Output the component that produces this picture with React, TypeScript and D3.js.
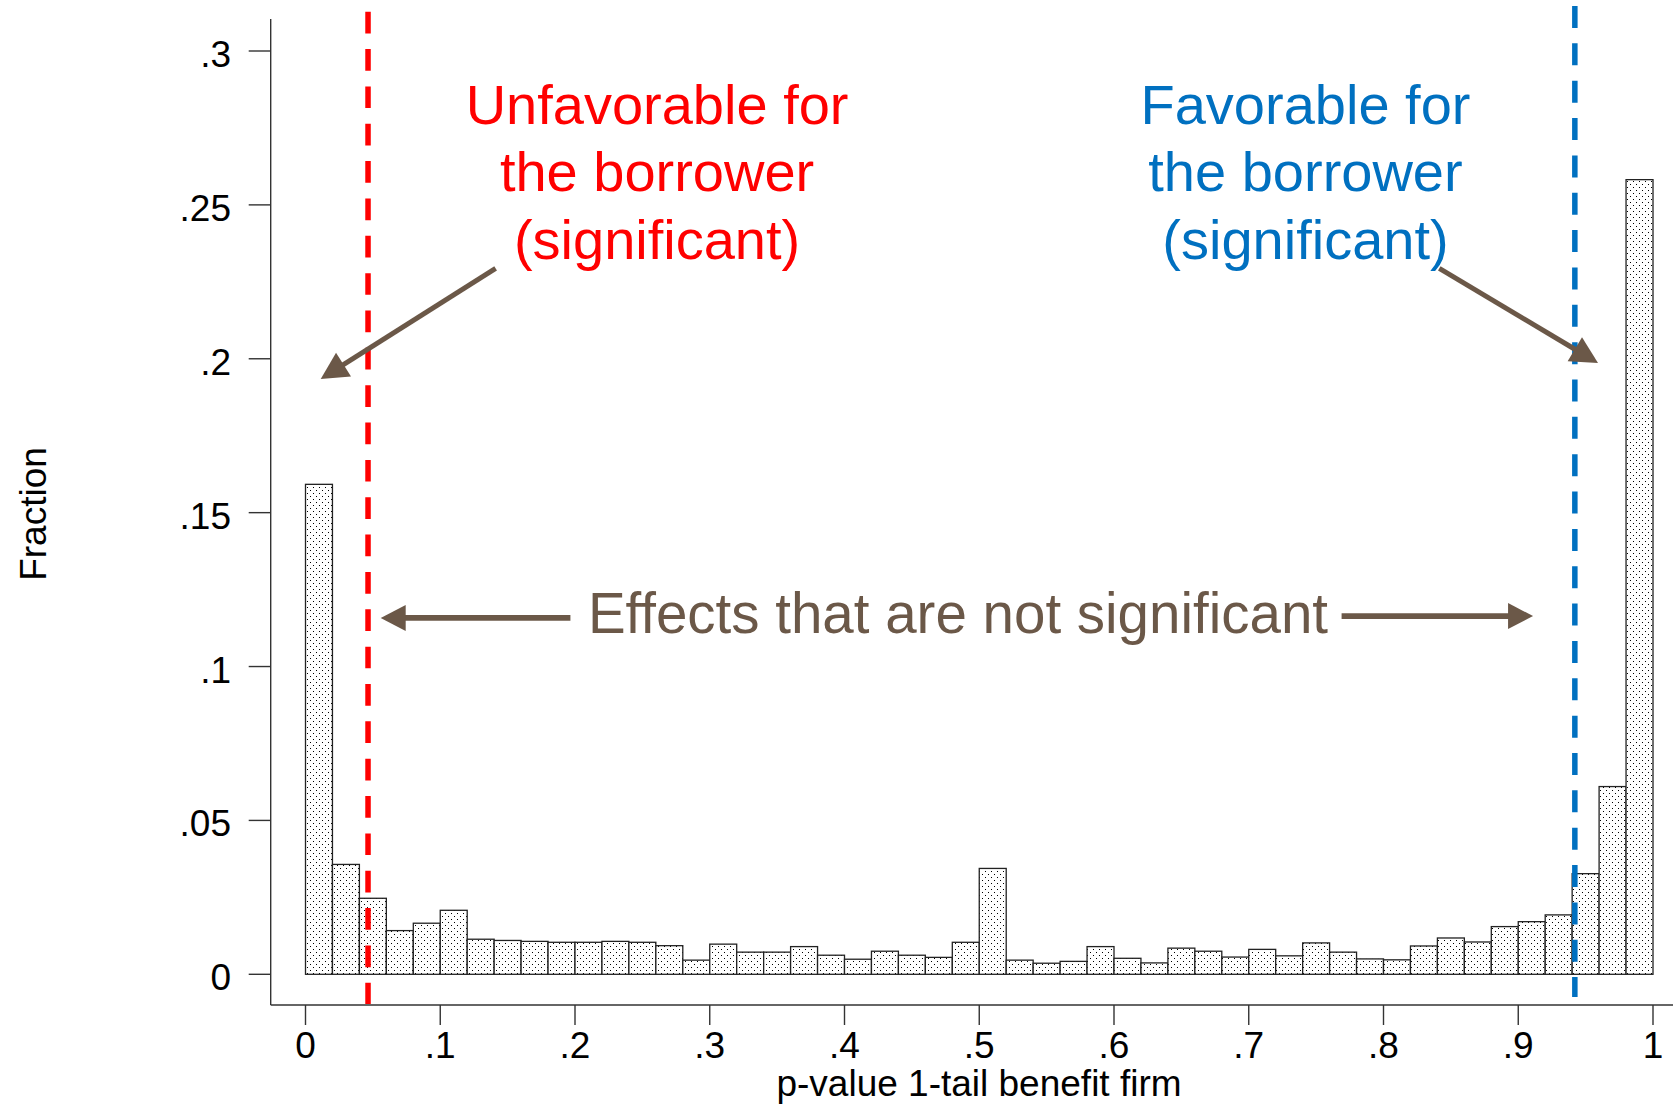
import { useEffect, useRef } from 'react';
import * as d3 from 'd3';

// Histogram of p-values, bins of width 0.02 (fraction per bin)
const binStarts = d3.range(0, 50).map((i) => i * 0.02);
const fractions = [
  0.1592, 0.0357, 0.0247, 0.0142, 0.0166, 0.0208, 0.0114, 0.0110, 0.0107, 0.0104,
  0.0104, 0.0107, 0.0104, 0.0093, 0.0046, 0.0098, 0.0072, 0.0072, 0.0090, 0.0062,
  0.0049, 0.0075, 0.0062, 0.0055, 0.0104, 0.0344, 0.0046, 0.0036, 0.0042, 0.0090,
  0.0052, 0.0037, 0.0085, 0.0075, 0.0056, 0.0081, 0.0060, 0.0102, 0.0072, 0.0050,
  0.0047, 0.0092, 0.0118, 0.0105, 0.0155, 0.0171, 0.0193, 0.0327, 0.0610, 0.2582,
];
const binWidth = 0.02;

const yTicks = [0, 0.05, 0.1, 0.15, 0.2, 0.25, 0.3];
const xTicks = [0, 0.1, 0.2, 0.3, 0.4, 0.5, 0.6, 0.7, 0.8, 0.9, 1];

const cutoffLow = 0.0464;
const cutoffHigh = 0.942;

const redLines = ['Unfavorable for', 'the borrower', '(significant)'];
const blueLines = ['Favorable for', 'the borrower', '(significant)'];
const middleLabel = 'Effects that are not significant';

const FONT = '"Liberation Sans", Arial, Helvetica, sans-serif';
const BROWN = '#6b5848';
const RED = '#ff0000';
const BLUE = '#0070c0';

const fmt = (v: number) => (v === 0 ? '0' : v === 1 ? '1' : String(+v.toFixed(2)).replace(/^0/, ''));

export default function App() {
  const svgRef = useRef<SVGSVGElement>(null);

  useEffect(() => {
    if (!svgRef.current) return;
    const svg = d3.select(svgRef.current);
    svg.selectAll('*').remove();

    const width = 1673;
    const height = 1105;
    svg.attr('width', width).attr('height', height);

    const x = d3.scaleLinear().domain([0, 1]).range([305.5, 1653]);
    const y = d3.scaleLinear().domain([0, 0.3]).range([974.3, 51]);

    const axisX = 270.7;
    const axisY = 1005;

    // dotted fill for bars
    const defs = svg.append('defs');
    const pat = defs.append('pattern')
      .attr('id', 'dots')
      .attr('width', 6)
      .attr('height', 6)
      .attr('patternUnits', 'userSpaceOnUse');
    pat.append('rect').attr('width', 6).attr('height', 6).attr('fill', '#fff');
    pat.append('rect').attr('x', 1).attr('y', 1).attr('width', 1).attr('height', 1).attr('fill', '#000');
    pat.append('rect').attr('x', 4).attr('y', 4).attr('width', 1).attr('height', 1).attr('fill', '#000');

    svg.append('rect').attr('width', width).attr('height', height).attr('fill', '#fff');

    // Bars
    svg.append('g')
      .selectAll('rect')
      .data(fractions)
      .join('rect')
      .attr('x', (_, i) => x(binStarts[i]))
      .attr('y', (d) => y(d))
      .attr('width', x(binWidth) - x(0))
      .attr('height', (d) => y(0) - y(d))
      .attr('fill', 'url(#dots)')
      .attr('stroke', '#222')
      .attr('stroke-width', 1.3);

    // Axes
    const ax = svg.append('g').attr('stroke', '#333').attr('stroke-width', 1.4);
    ax.append('line').attr('x1', axisX).attr('x2', axisX).attr('y1', 19).attr('y2', axisY);
    ax.append('line').attr('x1', axisX).attr('x2', width).attr('y1', axisY).attr('y2', axisY);

    yTicks.forEach((t) => {
      ax.append('line').attr('x1', axisX - 22).attr('x2', axisX).attr('y1', y(t)).attr('y2', y(t));
      svg.append('text')
        .attr('x', 231)
        .attr('y', y(t) + 16)
        .attr('text-anchor', 'end')
        .attr('font-family', FONT)
        .attr('font-size', 37)
        .attr('fill', '#000')
        .text(fmt(t));
    });

    xTicks.forEach((t) => {
      ax.append('line').attr('x1', x(t)).attr('x2', x(t)).attr('y1', axisY).attr('y2', axisY + 20);
      svg.append('text')
        .attr('x', x(t))
        .attr('y', 1058)
        .attr('text-anchor', 'middle')
        .attr('font-family', FONT)
        .attr('font-size', 37)
        .attr('fill', '#000')
        .text(fmt(t));
    });

    svg.append('text')
      .attr('x', 979)
      .attr('y', 1096)
      .attr('text-anchor', 'middle')
      .attr('font-family', FONT)
      .attr('font-size', 37)
      .attr('fill', '#000')
      .text('p-value 1-tail benefit firm');

    svg.append('text')
      .attr('transform', 'translate(46, 514) rotate(-90)')
      .attr('text-anchor', 'middle')
      .attr('font-family', FONT)
      .attr('font-size', 37)
      .attr('fill', '#000')
      .text('Fraction');

    // Cutoff lines
    svg.append('line')
      .attr('x1', x(cutoffLow)).attr('x2', x(cutoffLow))
      .attr('y1', 11.7).attr('y2', 1004)
      .attr('stroke', RED)
      .attr('stroke-width', 5.5)
      .attr('stroke-dasharray', '21.7 15.65');
    svg.append('line')
      .attr('x1', x(cutoffHigh)).attr('x2', x(cutoffHigh))
      .attr('y1', 6).attr('y2', 997)
      .attr('stroke', BLUE)
      .attr('stroke-width', 5.5)
      .attr('stroke-dasharray', '22 15.35');

    // Annotation text blocks
    const block = (lines: string[], cx: number, baseVal: number, color: string) => {
      lines.forEach((s, i) => {
        svg.append('text')
          .attr('x', x(cx))
          .attr('y', y(baseVal) + i * 67.5)
          .attr('text-anchor', 'middle')
          .attr('font-family', FONT)
          .attr('font-size', 56)
          .attr('fill', color)
          .text(s);
      });
    };
    block(redLines, 0.2609, 0.2763, RED);
    block(blueLines, 0.7421, 0.2763, BLUE);

    svg.append('text')
      .attr('x', x(0.4842))
      .attr('y', y(0.1108))
      .attr('text-anchor', 'middle')
      .attr('font-family', FONT)
      .attr('font-size', 56.5)
      .attr('fill', BROWN)
      .text(middleLabel);

    // Arrows
    const arrow = (x0: number, y0: number, x1: number, y1: number, sw: number, hl: number, hw: number) => {
      const sx = x(x0), sy = y(y0), tx = x(x1), ty = y(y1);
      const len = Math.hypot(tx - sx, ty - sy);
      const ux = (tx - sx) / len, uy = (ty - sy) / len;
      const bx = tx - ux * hl, by = ty - uy * hl;
      svg.append('line')
        .attr('x1', sx).attr('y1', sy)
        .attr('x2', bx + ux * 2).attr('y2', by + uy * 2)
        .attr('stroke', BROWN)
        .attr('stroke-width', sw);
      const pts: [number, number][] = [
        [tx, ty],
        [bx - uy * hw / 2, by + ux * hw / 2],
        [bx + uy * hw / 2, by - ux * hw / 2],
      ];
      svg.append('polygon')
        .attr('points', pts.map((p) => p.join(',')).join(' '))
        .attr('fill', BROWN);
    };
    arrow(0.1411, 0.2294, 0.0113, 0.1934, 5, 27, 28);
    arrow(0.8414, 0.2294, 0.9592, 0.1986, 5, 27, 28);
    arrow(0.1966, 0.1158, 0.0558, 0.1158, 5.7, 25, 26);
    arrow(0.7689, 0.1164, 0.911, 0.1164, 5.7, 25, 26);
  }, []);

  return <svg ref={svgRef} style={{ position: 'absolute', left: 0, top: 0, display: 'block' }} />;
}
